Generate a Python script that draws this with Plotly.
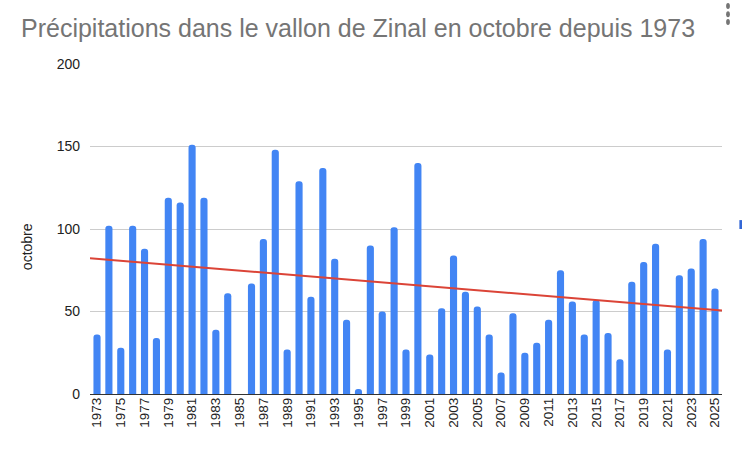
import plotly.graph_objects as go
import numpy as np

years = list(range(1973, 2026))
precip = [36, 102, 28, 102, 88, 34, 119, 116, 151, 119,
          39, 61, 0, 67, 94, 148, 27, 129, 59, 137,
          82, 45, 3, 90, 50, 101, 27, 140, 24, 52,
          84, 62, 53, 36, 13, 49, 25, 31, 45, 75,
          56, 36, 57, 37, 21, 68, 80, 91, 27, 72,
          76, 94, 64]
y_ticks = [0, 50, 100, 150, 200]

BLUE = '#4285F4'
RED = '#DB4437'
GREY = '#757575'
FONT = 'Liberation Sans, Arial'

x_range = [1972.41, 2025.59]


def main():
    slope, icpt = np.polyfit(years, precip, 1)
    trend_x = np.array(x_range)
    trend_y = slope * trend_x + icpt

    fig = go.Figure()
    fig.add_trace(go.Bar(x=years, y=precip, width=0.6,
                         marker=dict(color=BLUE, cornerradius=3, line=dict(width=0)),
                         name='octobre', showlegend=False))
    fig.add_trace(go.Scatter(x=trend_x, y=trend_y, mode='lines',
                             line=dict(color=RED, width=2),
                             showlegend=False, hoverinfo='skip'))

    # menu dots (top right) and clipped legend key
    for yy in (1.176, 1.151, 1.127):
        fig.add_shape(type='circle', xref='paper', yref='paper',
                      x0=1.0065, x1=1.0125, y0=yy - 0.009, y1=yy + 0.009,
                      fillcolor=GREY, line=dict(width=0))
    fig.add_shape(type='rect', xref='paper', yref='paper',
                  x0=1.0275, x1=1.04, y0=0.5, y1=0.527,
                  fillcolor='#3367D6', line=dict(width=0))

    # y axis title, sits a bit below the plot centre like the original
    fig.add_annotation(text='octobre', textangle=-90, showarrow=False,
                       xref='paper', yref='paper', x=(27 - 90) / 632, y=0.445,
                       xanchor='center', yanchor='middle',
                       font=dict(family=FONT, size=14, color='#222222'))

    fig.update_layout(
        width=742, height=452,
        margin=dict(l=90, r=20, t=64, b=58),
        paper_bgcolor='white', plot_bgcolor='white',
        font=dict(family=FONT, size=14, color='#222222'),
        title=dict(text='Précipitations dans le vallon de Zinal en octobre depuis 1973',
                   x=21 / 742, xanchor='left', y=1 - 28 / 452, yanchor='middle',
                   font=dict(family=FONT, size=25, color=GREY)),
        xaxis=dict(range=x_range, tickmode='linear', tick0=1973, dtick=2,
                   tickangle=-90, showgrid=False, ticks='', zeroline=False,
                   tickfont=dict(size=13.5, color='#222222')),
        yaxis=dict(range=[0, 200], tickvals=y_ticks, showgrid=True,
                   gridcolor='#CCCCCC', gridwidth=1, ticks='',
                   zeroline=True, zerolinecolor='#333333', zerolinewidth=1,
                   ticklabelstandoff=9),
    )
    fig.write_html('out.html', config={'displayModeBar': False},
                   post_script="document.body.style.margin='0';")


if __name__ == '__main__':
    main()
